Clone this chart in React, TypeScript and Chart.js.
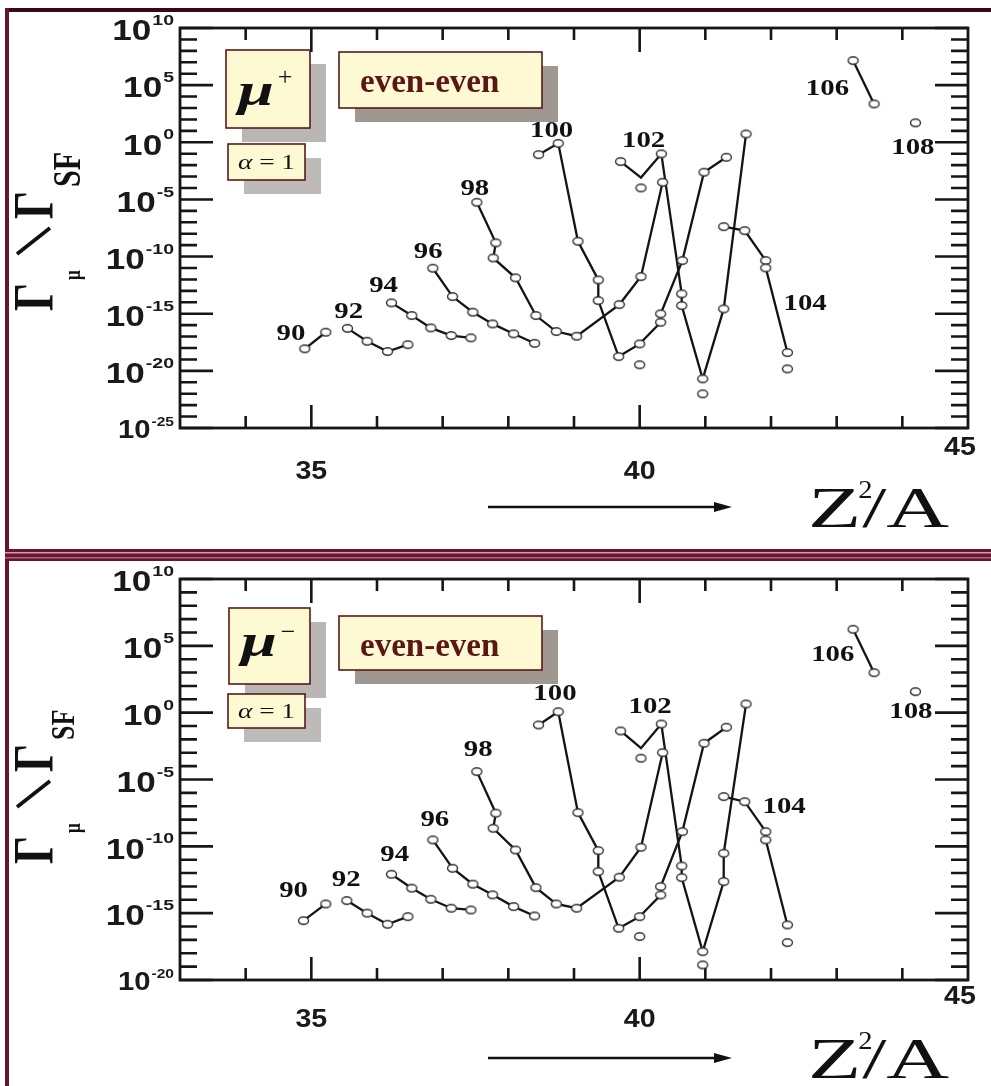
import { useEffect, useRef } from "react";
import { Chart, registerables } from "chart.js";

Chart.register(...registerables);

// ================= DATA (x = Z^2/A, values = log10(Γμ/ΓSF)) =================
// ---- μ+ panel ----
const plusZ90X = [34.9, 35.22];
const plusZ90Log = [-18.07, -16.62];
const plusZ92X = [35.55, 35.85, 36.16, 36.47];
const plusZ92Log = [-16.28, -17.41, -18.31, -17.71];
const plusZ94X = [36.22, 36.53, 36.82, 37.13, 37.43];
const plusZ94Log = [-14.05, -15.16, -16.24, -16.91, -17.11];
const plusZ96X = [36.85, 37.15, 37.46, 37.76, 38.08, 38.4];
const plusZ96Log = [-11.02, -13.5, -14.87, -15.89, -16.76, -17.59];
const plusZ98X = [37.52, 37.81, 37.77, 38.11, 38.42, 38.73, 39.04, 39.69, 40.02, 40.35];
const plusZ98Log = [-5.25, -8.8, -10.12, -11.86, -15.16, -16.56, -16.97, -14.2, -11.75, -3.5];
const plusZ100X = [38.46, 38.76, 39.06, 39.37, 39.37, 39.68, 40.0, 40.32, 40.32, 40.65, 40.98, 41.32];
const plusZ100Log = [-1.08, -0.09, -8.66, -12.04, -13.85, -18.75, -17.64, -15.75, -15.01, -10.35, -2.62, -1.31];
const plusZ102X = [39.71, 40.02, 40.33, 40.64, 40.64, 40.96, 41.28, 41.62];
const plusZ102Log = [-1.69, -3.09, -1.01, -13.26, -14.29, -20.7, -14.58, 0.73];
const plusZ102Unmarked = [1];
const plusZ104X = [41.28, 41.6, 41.92, 41.92, 42.25];
const plusZ104Log = [-7.38, -7.73, -10.35, -10.99, -18.4];
const plusZ106X = [43.25, 43.57];
const plusZ106Log = [7.15, 3.36];
const plusZ108X = [44.2];
const plusZ108Log = [1.7];
const plusExtraX = [40.0, 40.02, 40.96, 42.25];
const plusExtraLog = [-19.47, -3.99, -22.01, -19.83];

// ---- μ- panel ----
const minusZ90X = [34.88, 35.22];
const minusZ90Log = [-15.56, -14.31];
const minusZ92X = [35.54, 35.85, 36.16, 36.47];
const minusZ92Log = [-14.06, -15.0, -15.83, -15.26];
const minusZ94X = [36.22, 36.53, 36.82, 37.13, 37.43];
const minusZ94Log = [-12.09, -13.13, -13.96, -14.63, -14.76];
const minusZ96X = [36.85, 37.15, 37.46, 37.76, 38.08, 38.4];
const minusZ96Log = [-9.52, -11.64, -12.83, -13.63, -14.51, -15.21];
const minusZ98X = [37.52, 37.81, 37.77, 38.11, 38.42, 38.73, 39.04, 39.69, 40.02, 40.35];
const minusZ98Log = [-4.41, -7.52, -8.65, -10.27, -13.09, -14.31, -14.63, -12.31, -10.07, -2.99];
const minusZ100X = [38.46, 38.76, 39.06, 39.37, 39.37, 39.68, 40.0, 40.32, 40.32, 40.65, 40.98, 41.32];
const minusZ100Log = [-0.92, 0.07, -7.48, -10.32, -11.89, -16.13, -15.26, -13.64, -13.01, -8.9, -2.29, -1.09];
const minusZ102X = [39.71, 40.02, 40.33, 40.64, 40.64, 40.96, 41.28, 41.28, 41.62];
const minusZ102Log = [-1.37, -2.66, -0.85, -11.47, -12.34, -17.88, -12.64, -10.52, 0.65];
const minusZ102Unmarked = [1];
const minusZ104X = [41.28, 41.6, 41.92, 41.92, 42.25];
const minusZ104Log = [-6.28, -6.66, -8.9, -9.52, -15.88];
const minusZ106X = [43.25, 43.57];
const minusZ106Log = [6.24, 2.99];
const minusZ108X = [44.2];
const minusZ108Log = [1.57];
const minusExtraX = [40.0, 40.02, 40.96, 42.25];
const minusExtraLog = [-16.75, -3.41, -18.87, -17.2];

// ---- isotope chain labels (Z) placed in data coordinates ----
const chainLabels = ["90", "92", "94", "96", "98", "100", "102", "104", "106", "108"];
const plusLabelX = [34.69, 35.57, 36.1, 36.78, 37.49, 38.66, 40.06, 42.52, 42.86, 44.16];
const plusLabelLog = [-16.76, -14.87, -12.54, -9.62, -4.08, 1.02, 0.15, -14.14, 4.67, -0.44];
const minusLabelX = [34.73, 35.53, 36.27, 36.88, 37.54, 38.71, 40.16, 42.2, 42.94, 44.13];
const minusLabelLog = [-13.31, -12.51, -10.64, -8.03, -2.79, 1.4, 0.45, -7.03, 4.32, 0.07];

// ---- ticks ----
const xTickValues = [35, 40, 45];
const plusYTickExps = [10, 5, 0, -5, -10, -15, -20, -25];
const minusYTickExps = [10, 5, 0, -5, -10, -15, -20];

// ================= DRAWING =================
const SANS = '"Liberation Sans", Arial, sans-serif';
const SERIF = '"Liberation Serif", "Times New Roman", serif';

type Pt = { x: number; y: number; bare: boolean };
function pts(xs: number[], logs: number[], bare: number[] = []): Pt[] {
  return xs.map((x, i) => ({ x, y: Math.pow(10, logs[i]), bare: bare.includes(i) }));
}

function txt(ctx: CanvasRenderingContext2D, s: string, x: number, y: number, font: string,
  align: CanvasTextAlign, baseline: CanvasTextBaseline, hs = 1, color = "#111") {
  ctx.save();
  ctx.translate(x, y);
  ctx.scale(hs, 1);
  ctx.font = font;
  ctx.textAlign = align;
  ctx.textBaseline = baseline;
  ctx.fillStyle = color;
  ctx.fillText(s, 0, 0);
  ctx.restore();
}
function tw(ctx: CanvasRenderingContext2D, s: string, font: string, hs = 1) {
  ctx.save();
  ctx.font = font;
  const w = ctx.measureText(s).width * hs;
  ctx.restore();
  return w;
}
function rot(ctx: CanvasRenderingContext2D, s: string, sx: number, sy: number, font: string, vs: number) {
  ctx.save();
  ctx.translate(sx, sy);
  ctx.rotate(-Math.PI / 2);
  ctx.scale(1, vs);
  ctx.font = font;
  ctx.textAlign = "left";
  ctx.textBaseline = "alphabetic";
  ctx.fillStyle = "#111";
  ctx.fillText(s, 0, 0);
  ctx.restore();
}
function box(ctx: CanvasRenderingContext2D, b: number[], oy: number, shadow: string) {
  const [x, y, w, h] = b;
  ctx.fillStyle = shadow;
  ctx.fillRect(x + 16, y - oy + 14, w, h);
  ctx.fillStyle = "#fdf9d3";
  ctx.fillRect(x, y - oy, w, h);
  ctx.strokeStyle = "#5a1818";
  ctx.lineWidth = 1.6;
  ctx.strokeRect(x, y - oy, w, h);
}

type Cfg = {
  oy: number; h: number; pad: { left: number; right: number; top: number; bottom: number };
  expMin: number; expMax: number; yTicks: number[];
  series: Pt[][]; extras: Pt[]; labX: number[]; labLog: number[];
  sign: string; muBox: number[]; muBase: number; signY: number;
  alBox: number[]; eeBox: number[];
  titleDy: number; sfScale: number; sfBase: number;
  xLabY: number; x45Y: number; arrowY: number; zBase: number;
};

const PLUS: Cfg = {
  oy: 0, h: 548, pad: { left: 180, right: 23, top: 28, bottom: 120 },
  expMin: -25, expMax: 10, yTicks: plusYTickExps,
  series: [
    pts(plusZ90X, plusZ90Log), pts(plusZ92X, plusZ92Log), pts(plusZ94X, plusZ94Log),
    pts(plusZ96X, plusZ96Log), pts(plusZ98X, plusZ98Log), pts(plusZ100X, plusZ100Log),
    pts(plusZ102X, plusZ102Log, plusZ102Unmarked), pts(plusZ104X, plusZ104Log),
    pts(plusZ106X, plusZ106Log), pts(plusZ108X, plusZ108Log),
  ],
  extras: pts(plusExtraX, plusExtraLog), labX: plusLabelX, labLog: plusLabelLog,
  sign: "+", muBox: [226, 50, 84, 78], muBase: 105, signY: 78,
  alBox: [228, 144, 77, 36], eeBox: [339, 52, 203, 56],
  titleDy: 0, sfScale: 1, sfBase: 80,
  xLabY: 472, x45Y: 448, arrowY: 507, zBase: 527,
};

const MINUS: Cfg = {
  oy: 548, h: 538, pad: { left: 180, right: 23, top: 31, bottom: 106 },
  expMin: -20, expMax: 10, yTicks: minusYTickExps,
  series: [
    pts(minusZ90X, minusZ90Log), pts(minusZ92X, minusZ92Log), pts(minusZ94X, minusZ94Log),
    pts(minusZ96X, minusZ96Log), pts(minusZ98X, minusZ98Log), pts(minusZ100X, minusZ100Log),
    pts(minusZ102X, minusZ102Log, minusZ102Unmarked), pts(minusZ104X, minusZ104Log),
    pts(minusZ106X, minusZ106Log), pts(minusZ108X, minusZ108Log),
  ],
  extras: pts(minusExtraX, minusExtraLog), labX: minusLabelX, labLog: minusLabelLog,
  sign: "\u2212", muBox: [229, 608, 81, 76], muBase: 656, signY: 633,
  alBox: [228, 694, 77, 34], eeBox: [339, 616, 203, 54],
  titleDy: 553, sfScale: 0.85, sfBase: 74,
  xLabY: 1020, x45Y: 997, arrowY: 1058, zBase: 1078,
};

function makeDot() {
  const c = document.createElement("canvas");
  c.width = 13;
  c.height = 11;
  const g = c.getContext("2d")!;
  g.beginPath();
  g.ellipse(6.5, 5.5, 5, 3.7, 0, 0, Math.PI * 2);
  g.fillStyle = "#fff";
  g.fill();
  g.lineWidth = 1.4;
  g.strokeStyle = "#333";
  g.stroke();
  return c;
}

function drawAxes(chart: any, cfg: Cfg) {
  const ctx: CanvasRenderingContext2D = chart.ctx;
  const { left, right, top, bottom } = chart.chartArea;
  const xs = chart.scales.x;
  const ys = chart.scales.y;
  const oy = cfg.oy;
  ctx.save();
  // page border
  if (oy === 0) {
    ctx.fillStyle = "#360915";
    ctx.fillRect(5, 8, 986, 4);
    ctx.fillStyle = "#6a1230";
    ctx.fillRect(5, 8, 4, cfg.h);
  } else {
    ctx.fillStyle = "#6a1230";
    ctx.fillRect(5, 0, 4, cfg.h);
    ctx.fillStyle = "#6d1232";
    ctx.fillRect(5, 1, 986, 12);
    ctx.fillStyle = "#c8a0ab";
    ctx.fillRect(5, 4, 986, 1.5);
    ctx.fillStyle = "#a66a80";
    ctx.fillRect(5, 9, 986, 1.5);
  }
  ctx.strokeStyle = "#161616";
  ctx.lineWidth = 2.6;
  ctx.beginPath();
  for (let e = cfg.expMin; e <= cfg.expMax; e++) {
    const py = ys.getPixelForValue(Math.pow(10, e));
    const len = e % 5 === 0 ? 33 : 17;
    ctx.moveTo(left, py);
    ctx.lineTo(left + len, py);
    ctx.moveTo(right, py);
    ctx.lineTo(right - len, py);
  }
  for (let v = 34; v <= 44; v++) {
    const px = xs.getPixelForValue(v);
    const major = v % 5 === 0;
    ctx.moveTo(px, top);
    ctx.lineTo(px, top + (major ? 24 : 12));
    ctx.moveTo(px, bottom);
    ctx.lineTo(px, bottom - (major ? 23 : 12));
  }
  ctx.stroke();
  ctx.lineWidth = 2.8;
  ctx.strokeRect(left, top, right - left, bottom - top);
  ctx.restore();
}

function drawNotes(chart: any, cfg: Cfg) {
  const ctx: CanvasRenderingContext2D = chart.ctx;
  const xs = chart.scales.x;
  const ys = chart.scales.y;
  const oy = cfg.oy;
  ctx.save();

  // y tick labels 10^n
  cfg.yTicks.forEach((e) => {
    const py = ys.getPixelForValue(Math.pow(10, e));
    const k = e === cfg.expMin ? 0.82 : 1;
    const ef = `bold ${Math.round(15 * k)}px ${SANS}`;
    const bf = `bold ${Math.round(30 * k)}px ${SANS}`;
    const ew = tw(ctx, String(e), ef, 1.3);
    txt(ctx, String(e), 174, py - 7 * k, ef, "right", "middle", 1.3, "#1a1a1a");
    txt(ctx, "10", 174 - ew - 1, py + 4 * k, bf, "right", "middle", 1.17, "#1a1a1a");
  });

  // x tick labels
  xTickValues.forEach((v) => {
    const last = v === 45;
    const px = last ? 960 : xs.getPixelForValue(v);
    txt(ctx, String(v), px, (last ? cfg.x45Y : cfg.xLabY) - oy, `bold 26px ${SANS}`, "center", "middle", 1.1, "#1a1a1a");
  });

  // isotope chain labels
  chainLabels.forEach((s, i) => {
    const px = xs.getPixelForValue(cfg.labX[i]);
    const py = ys.getPixelForValue(Math.pow(10, cfg.labLog[i]));
    txt(ctx, s, px, py, `bold 24px ${SERIF}`, "center", "middle", 1.2, "#111");
  });

  // boxes
  box(ctx, cfg.muBox, oy, "#b9b6b3");
  box(ctx, cfg.alBox, oy, "#bdbab7");
  box(ctx, cfg.eeBox, oy, "#9f9890");
  const mx = cfg.muBox[0];
  txt(ctx, "\u03bc", mx + 30, cfg.muBase - oy, `italic bold 46px ${SERIF}`, "center", "alphabetic", 1.4, "#111");
  txt(ctx, cfg.sign, mx + 59, cfg.signY - oy, `26px ${SERIF}`, "center", "middle", 1.0, "#111");
  const [ax, ay, aw, ah] = cfg.alBox;
  const fa = `italic 21px ${SERIF}`;
  const fb = `21px ${SERIF}`;
  const w1 = tw(ctx, "\u03b1", fa, 1.3);
  const w2 = tw(ctx, " = 1", fb, 1.3);
  const sx = ax + aw / 2 - (w1 + w2) / 2;
  txt(ctx, "\u03b1", sx, ay + ah / 2 - oy + 7, fa, "left", "alphabetic", 1.3, "#111");
  txt(ctx, " = 1", sx + w1, ay + ah / 2 - oy + 7, fb, "left", "alphabetic", 1.3, "#111");
  const [ex, ey] = cfg.eeBox;
  txt(ctx, "even-even", ex + 21, ey + 40 - oy, `bold 33px ${SERIF}`, "left", "alphabetic", 1.0, "#5c1616");

  // y axis title  Γμ / ΓSF (rotated)
  const dy = cfg.titleDy - oy;
  rot(ctx, "\u0393", 53, 311 + dy, `bold 44px ${SERIF}`, 1.3);
  rot(ctx, "\u03bc", 80, 280 + dy, `bold 17px ${SERIF}`, 1.3);
  ctx.strokeStyle = "#111";
  ctx.lineWidth = 3.6;
  ctx.beginPath();
  ctx.moveTo(17, 254 + dy);
  ctx.lineTo(50, 228 + dy);
  ctx.stroke();
  rot(ctx, "\u0393", 53, 219 + dy, `bold 44px ${SERIF}`, 1.3);
  rot(ctx, "SF", cfg.sfBase, 187 + dy, `bold ${Math.round(30 * cfg.sfScale)}px ${SERIF}`, 1.3);

  // arrow and Z^2/A
  const ay2 = cfg.arrowY - oy;
  ctx.strokeStyle = "#111";
  ctx.lineWidth = 2.6;
  ctx.beginPath();
  ctx.moveTo(488, ay2);
  ctx.lineTo(718, ay2);
  ctx.stroke();
  ctx.fillStyle = "#111";
  ctx.beginPath();
  ctx.moveTo(732, ay2);
  ctx.lineTo(714, ay2 - 5);
  ctx.lineTo(714, ay2 + 5);
  ctx.closePath();
  ctx.fill();
  const zb = cfg.zBase - oy;
  const zf = `58px ${SERIF}`;
  const zw = tw(ctx, "Z", zf, 1.5);
  txt(ctx, "Z", 808, zb, zf, "left", "alphabetic", 1.5, "#111");
  txt(ctx, "2", 808 + zw - 3, zb - 29, `26px ${SERIF}`, "left", "alphabetic", 1.1, "#111");
  txt(ctx, "/A", 808 + zw + 1, zb, zf, "left", "alphabetic", 1.5, "#111");

  ctx.restore();
}

function makeChart(canvas: HTMLCanvasElement, cfg: Cfg, dot: HTMLCanvasElement) {
  const lineSets = cfg.series.map((data) => ({
    data,
    showLine: true,
    borderColor: "#141414",
    borderWidth: 2.3,
    pointStyle: dot,
    pointRadius: (c: any) => (c.raw && c.raw.bare ? 0 : 4),
    pointHoverRadius: 0,
    pointHitRadius: 0,
    tension: 0,
    clip: false,
    order: 1,
  }));
  const extraSet = {
    data: cfg.extras,
    showLine: false,
    pointStyle: dot,
    pointRadius: 4,
    pointHoverRadius: 0,
    clip: false,
    order: 0,
  };
  const deco = {
    id: "deco",
    beforeDatasetsDraw(chart: any) {
      drawAxes(chart, cfg);
    },
    afterDatasetsDraw(chart: any) {
      drawNotes(chart, cfg);
    },
  };
  return new Chart(canvas, {
    type: "scatter",
    data: { datasets: [...lineSets, extraSet] as any },
    options: {
      responsive: false,
      animation: false,
      devicePixelRatio: 1,
      events: [],
      layout: { padding: cfg.pad },
      plugins: { legend: { display: false }, tooltip: { enabled: false } },
      scales: {
        x: { type: "linear", min: 33, max: 45, display: false },
        y: { type: "logarithmic", min: Math.pow(10, cfg.expMin), max: Math.pow(10, cfg.expMax), display: false },
      },
    } as any,
    plugins: [deco],
  });
}

export default function App() {
  const topRef = useRef<HTMLCanvasElement>(null);
  const botRef = useRef<HTMLCanvasElement>(null);
  useEffect(() => {
    const dot = makeDot();
    const c1 = makeChart(topRef.current!, PLUS, dot);
    const c2 = makeChart(botRef.current!, MINUS, dot);
    return () => {
      c1.destroy();
      c2.destroy();
    };
  }, []);
  return (
    <div style={{ position: "absolute", left: 0, top: 0, width: 991, height: 1086, background: "#fff", overflow: "hidden" }}>
      <canvas ref={topRef} width={991} height={548} style={{ position: "absolute", left: 0, top: 0, width: 991, height: 548, display: "block" }} />
      <canvas ref={botRef} width={991} height={538} style={{ position: "absolute", left: 0, top: 548, width: 991, height: 538, display: "block" }} />
    </div>
  );
}
